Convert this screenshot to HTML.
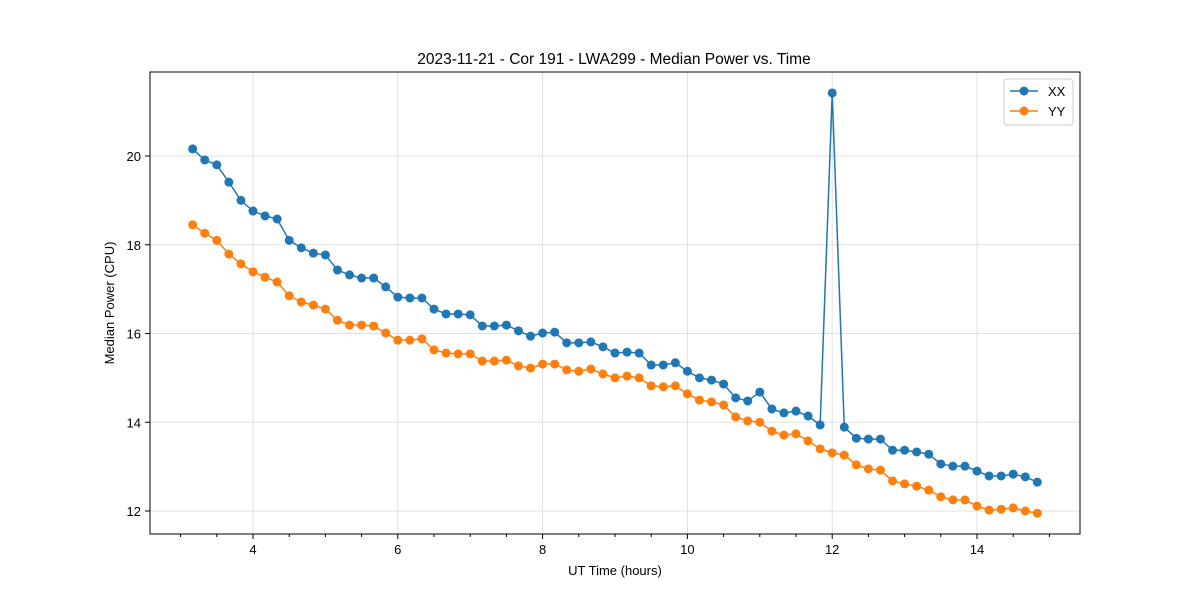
<!DOCTYPE html>
<html><head><meta charset="utf-8"><style>
body{margin:0;background:#fff;font-family:"Liberation Sans","DejaVu Sans",sans-serif}
</style></head><body>
<svg id="chart" width="1200" height="600" xmlns="http://www.w3.org/2000/svg" font-family="Liberation Sans, DejaVu Sans, sans-serif"></svg>
<script>
const xxValues=[20.16,19.91,19.8,19.41,19.0,18.76,18.65,18.58,18.1,17.93,17.81,17.77,17.43,17.32,17.25,17.25,17.05,16.82,16.8,16.8,16.55,16.44,16.44,16.42,16.17,16.17,16.19,16.06,15.94,16.01,16.03,15.79,15.79,15.81,15.7,15.56,15.58,15.56,15.29,15.29,15.34,15.15,15.0,14.95,14.86,14.55,14.48,14.68,14.3,14.21,14.25,14.14,13.94,21.42,13.89,13.64,13.62,13.62,13.37,13.37,13.33,13.28,13.06,13.01,13.01,12.9,12.79,12.79,12.83,12.77,12.65];
const yyValues=[18.45,18.26,18.1,17.79,17.57,17.39,17.27,17.16,16.85,16.71,16.64,16.55,16.3,16.19,16.19,16.17,16.01,15.85,15.85,15.88,15.63,15.56,15.54,15.54,15.38,15.38,15.4,15.27,15.22,15.31,15.31,15.18,15.15,15.2,15.09,15.0,15.04,15.0,14.82,14.8,14.82,14.64,14.5,14.46,14.39,14.12,14.03,14.0,13.8,13.71,13.74,13.58,13.4,13.31,13.26,13.04,12.95,12.92,12.68,12.61,12.56,12.47,12.32,12.25,12.25,12.11,12.02,12.04,12.07,12.0,11.95];
const times=xxValues.map((v,i)=>3+10/60+i/6);
const xTicks=[4,6,8,10,12,14];
const yTicks=[12,14,16,18,20];
const L=150,R=1080,T=72,B=534;
const xs=h=>253+(h-4)*72.4;
const ys=v=>156+(20-v)*44.375;
const svg=document.getElementById('chart');
const NS='http://www.w3.org/2000/svg';
function el(t,a,p){const e=document.createElementNS(NS,t);for(const k in a)e.setAttribute(k,a[k]);(p||svg).appendChild(e);return e;}
function txt(x,y,s,a){const e=el('text',Object.assign({x,y,'font-size':13,fill:'#000'},a));e.textContent=s;return e;}
const grid=el('g',{});


xTicks.forEach(t=>{el('line',{x1:xs(t),x2:xs(t),y1:T,y2:B,stroke:'#e0e0e0'},grid);
 el('line',{x1:xs(t),x2:xs(t),y1:B,y2:B+5,stroke:'#000'});
 const e=txt(xs(t),B+20,String(t),{'text-anchor':'middle'});
 
 });
for(let m=2.5;m<=15;m+=0.5){if(xs(m)>L&&xs(m)<R&&m%2!==0)el('line',{x1:xs(m),x2:xs(m),y1:B,y2:B+3,stroke:'#000'});}
yTicks.forEach(t=>{el('line',{x1:L,x2:R,y1:ys(t),y2:ys(t),stroke:'#e0e0e0'},grid);
 el('line',{x1:L-5,x2:L,y1:ys(t),y2:ys(t),stroke:'#000'});
 const e=txt(L-9,ys(t)+5,String(t),{'text-anchor':'end'});
 
 });
const frame=el('rect',{x:L,y:T,width:R-L,height:B-T,fill:'none',stroke:'#000'});


function series(vals,color,name){
 const g=el('g',{});
 
 
 el('polyline',{points:vals.map((v,i)=>xs(times[i])+','+ys(v)).join(' '),fill:'none',stroke:color,'stroke-width':1.5},g);
 vals.forEach((v,i)=>{const c=el('circle',{cx:xs(times[i]),cy:ys(v),r:4.5,fill:color},g);
  
  });
}
series(xxValues,'#1f77b4','series-xx');
series(yyValues,'#ff7f0e','series-yy');
const t1=txt(614,64,'2023-11-21 - Cor 191 - LWA299 - Median Power vs. Time',{'text-anchor':'middle','font-size':15.5});


const t2=txt(615,575,'UT Time (hours)',{'text-anchor':'middle'});


const t3=txt(0,0,'Median Power (CPU)',{'text-anchor':'middle',transform:'translate(114,303) rotate(-90)'});


const lg=el('g',{});


el('rect',{x:1004,y:79,width:69,height:46,rx:3,fill:'#fff',stroke:'#ccc'},lg);
[['XX','#1f77b4',91],['YY','#ff7f0e',111]].forEach(([n,c,y])=>{
 const g=el('g',{},lg);
 
 
 el('line',{x1:1010,x2:1038,y1:y,y2:y,stroke:c,'stroke-width':1.5},g);
 el('circle',{cx:1024,cy:y,r:4.5,fill:c},g);
 txt(1048,y+5,n,{},g);
});
</script>
</body></html>
